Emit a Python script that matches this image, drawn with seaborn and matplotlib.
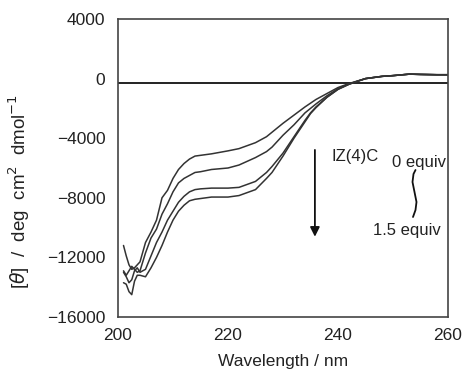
import matplotlib
matplotlib.use("Agg")
import matplotlib.pyplot as plt
import seaborn as sns
import pandas as pd
import numpy as np

# wavelengths (nm)
wavelength = [201, 201.5, 202, 202.5, 203, 203.5, 204, 205, 206, 207, 208, 209, 210, 211, 212, 213, 214, 215,
              217, 220, 222, 225, 227, 228, 230, 232, 234, 235, 236, 238, 240, 242, 243, 245, 248, 250, 253,
              255, 258, 260]

equiv_0 = [-11200, -11900, -12500, -12800, -12700, -12500, -12300, -11000, -10300, -9500, -8000, -7500, -6700,
           -6100, -5700, -5400, -5200, -5150, -5050, -4850, -4700, -4300, -3900, -3600, -3000, -2450, -1900,
           -1650, -1400, -1000, -600, -330, -220, 0, 150, 200, 300, 280, 260, 260]
equiv_05 = [-12900, -13200, -12900, -12600, -12800, -13000, -12900, -11700, -10700, -10100, -9100, -8400, -7600,
            -7000, -6700, -6500, -6300, -6250, -6100, -6000, -5800, -5300, -4900, -4600, -3800, -3100, -2300,
            -2000, -1700, -1150, -680, -360, -240, 0, 150, 200, 300, 280, 260, 260]
equiv_1 = [-13000, -13300, -13700, -13500, -12900, -12700, -13000, -12800, -11900, -11000, -10300, -9500, -8900,
           -8300, -7900, -7600, -7450, -7400, -7350, -7350, -7300, -6900, -6300, -5900, -5000, -3900, -2800,
           -2300, -1900, -1250, -720, -380, -250, 0, 150, 200, 300, 280, 260, 260]
equiv_15 = [-13700, -13800, -14300, -14500, -13600, -13200, -13200, -13300, -12700, -12000, -11200, -10300, -9500,
            -8900, -8500, -8200, -8100, -8050, -7950, -7950, -7850, -7450, -6700, -6300, -5200, -4000, -2900,
            -2350, -1950, -1250, -720, -380, -250, 0, 150, 200, 300, 280, 260, 260]

series_names = ["0 equiv", "0.5 equiv", "1.0 equiv", "1.5 equiv"]
series_vals = [equiv_0, equiv_05, equiv_1, equiv_15]

df = pd.concat([pd.DataFrame({"wl": wavelength, "theta": v, "s": n})
                for n, v in zip(series_names, series_vals)], ignore_index=True)

sns.set_style("white")
plt.rcParams["font.family"] = ["Liberation Sans", "DejaVu Sans"]

fig = plt.figure(figsize=(4.63, 3.76), dpi=100)
L, B, W, H = 118 / 463, 59 / 376, 330 / 463, 298 / 376
ax = fig.add_axes([L, B, W, H])

sns.lineplot(data=df, x="wl", y="theta", hue="s", palette=["#333333"] * 4, linewidth=1.1,
             legend=False, ax=ax, sort=False)

ax.axhline(-270, color="#111111", lw=1.3, zorder=0)

ax.set_xlim(200, 260)
ax.set_ylim(-16000, 4000)
ax.set_xticks([200, 220, 240, 260])
ax.set_yticks([4000, 0, -4000, -8000, -12000, -16000])
ax.set_yticklabels(["4000", "0", "\u22124000", "\u22128000", "\u221212000", "\u221216000"])
ax.tick_params(axis="both", direction="in", length=3, width=0.8, colors="#333333",
               labelsize=12.5, labelcolor="#222222")
ax.tick_params(axis="y", pad=9)
ax.tick_params(axis="x", pad=8)
for sp in ax.spines.values():
    sp.set_color("#444444")
    sp.set_linewidth(1.2)

ax.set_xlabel("Wavelength / nm", fontsize=12.5, color="#222222", labelpad=8)
ax.set_ylabel(r"[$\theta$]  /  deg  cm$^2$  dmol$^{-1}$", fontsize=13.5, color="#222222")
ax.yaxis.set_label_coords(-0.26, 0.42)

# annotations
ax.annotate("", xy=(235.8, -10800), xytext=(235.8, -4600),
            arrowprops=dict(arrowstyle="-|>", color="#111111", lw=1.3, mutation_scale=14))
ax.text(238.8, -5200, "IZ(4)C", fontsize=12, color="#222222", ha="left", va="center")
ax.text(254.8, -5600, "0 equiv", fontsize=12, color="#222222", ha="center", va="center")
ax.text(252.5, -10200, "1.5 equiv", fontsize=12, color="#222222", ha="center", va="center")

# squiggle bracket (axes-fraction coordinates)
px = np.array([415.5, 413.5, 412.5, 414.5, 416.5, 415.5, 413.0])
py = np.array([170, 174, 182, 192, 202, 210, 217])
ax.plot((px - 118) / 330, (317 - py) / 298, transform=ax.transAxes, color="#111111", lw=1.3)

fig.savefig("out.png", dpi=100)
